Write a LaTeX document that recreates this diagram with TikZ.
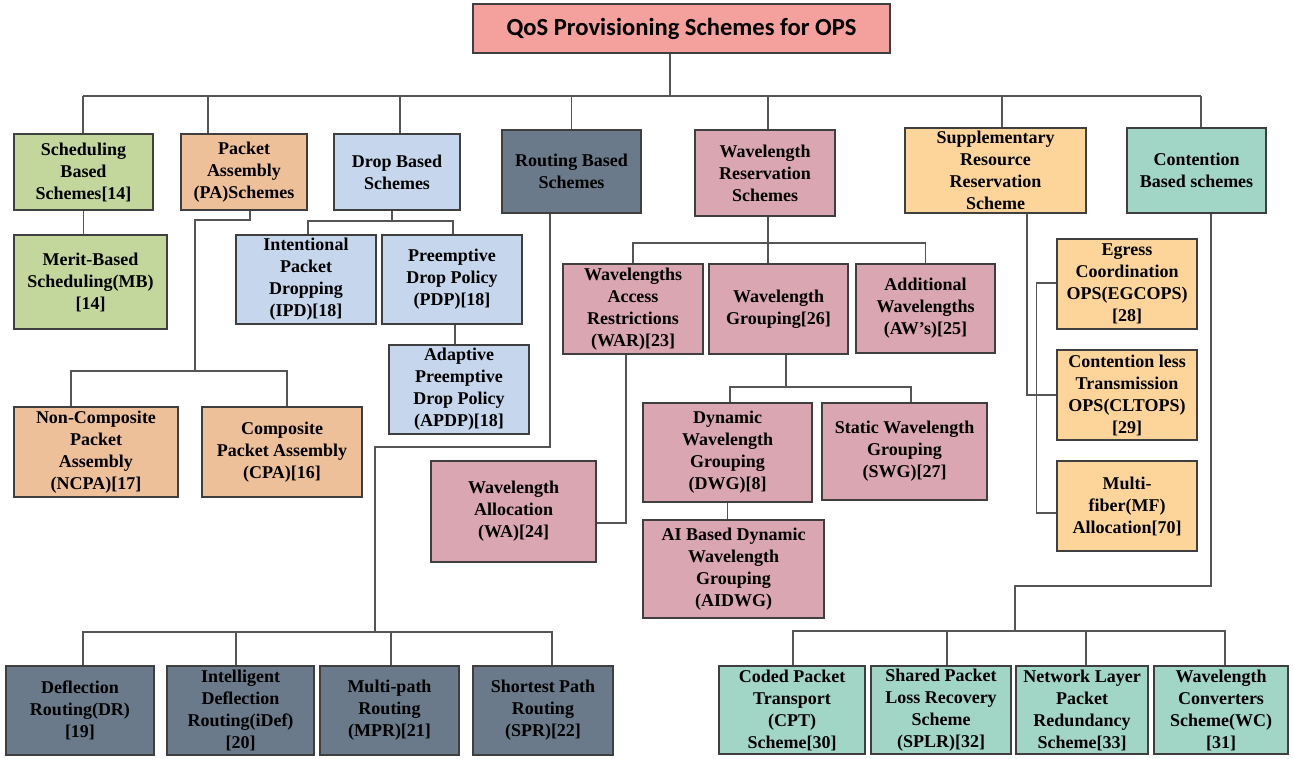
\documentclass[tikz,border=0pt]{standalone}
\usepackage{fontspec}
\setmainfont{Liberation Serif}
\newfontfamily\titlefont{Carlito}
\usetikzlibrary{calc}
\definecolor{boxline}{HTML}{3F3F3F}
\definecolor{connline}{HTML}{555555}
\definecolor{ctitle}{HTML}{F4A09C}
\definecolor{cgreen}{HTML}{C3D69B}
\definecolor{corange}{HTML}{EEC09A}
\definecolor{cblue}{HTML}{C6D6EC}
\definecolor{cslate}{HTML}{6A7A8A}
\definecolor{cpink}{HTML}{D9A6B2}
\definecolor{clorange}{HTML}{FDD59A}
\definecolor{cteal}{HTML}{A1D6C6}
\begin{document}
\begin{tikzpicture}[x=1pt,y=-1pt,
  box/.style={draw=boxline, line width=1.3pt, inner sep=0pt, align=center,
    font=\bfseries\fontsize{18}{22}\selectfont},
  conn/.style={draw=connline, line width=1.3pt}]
\fill[white] (0,0) rectangle (1293,758);
\useasboundingbox (0,0) rectangle (1293,758);

% title
\node[box, fill=ctitle, minimum width=417, minimum height=49, font=\titlefont\bfseries\fontsize{24.6}{28}\selectfont] (title) at (681.5,28.5) {QoS Provisioning Schemes for OPS};

% level 1
\node[box, fill=cgreen, minimum width=139, minimum height=76] (sched) at (83.5,172) {Scheduling\\Based\\Schemes[14]};
\node[box, fill=corange, minimum width=126, minimum height=76] (pa) at (244,172) {Packet\\Assembly\\(PA)Schemes};
\node[box, fill=cblue, minimum width=126, minimum height=76] (drop) at (397,172) {Drop Based\\Schemes};
\node[box, fill=cslate, minimum width=139, minimum height=83] (routing) at (571.5,171.5) {Routing Based\\Schemes};
\node[box, fill=cpink, minimum width=140, minimum height=86] (wr) at (765,173) {Wavelength\\Reservation\\Schemes};
\node[box, fill=clorange, minimum width=181, minimum height=85] (supp) at (995.5,170.5) {Supplementary\\Resource\\Reservation\\Scheme};
\node[box, fill=cteal, minimum width=139, minimum height=85] (cont) at (1196.5,170.5) {Contention\\Based schemes};

% scheduling / packet assembly / drop
\node[box, fill=cgreen, minimum width=153, minimum height=94] (mb) at (90.5,282) {Merit-Based\\Scheduling(MB)\\{[14]}};
\node[box, fill=cblue, minimum width=140, minimum height=89] (ipd) at (306,279.5) {Intentional\\Packet\\Dropping\\(IPD)[18]};
\node[box, fill=cblue, minimum width=140, minimum height=89] (pdp) at (452,279.5) {Preemptive\\Drop Policy\\(PDP)[18]};
\node[box, fill=cblue, minimum width=140, minimum height=89] (apdp) at (459,389.5) {Adaptive\\Preemptive\\Drop Policy\\(APDP)[18]};
\node[box, fill=corange, minimum width=164, minimum height=90] (ncpa) at (96,452) {Non-Composite\\Packet\\Assembly\\(NCPA)[17]};
\node[box, fill=corange, minimum width=160, minimum height=90] (cpa) at (282,452) {Composite\\Packet Assembly\\(CPA)[16]};

% wavelength reservation
\node[box, fill=cpink, minimum width=140, minimum height=90] (war) at (633,309) {Wavelengths\\Access\\Restrictions\\(WAR)[23]};
\node[box, fill=cpink, minimum width=139, minimum height=90] (wg) at (778.5,309) {Wavelength\\Grouping[26]};
\node[box, fill=cpink, minimum width=139, minimum height=89] (aw) at (925.5,308.5) {Additional\\Wavelengths\\(AW’s)[25]};
\node[box, fill=cpink, minimum width=165, minimum height=101] (wa) at (513.5,511.5) {Wavelength\\Allocation\\(WA)[24]};
\node[box, fill=cpink, minimum width=169, minimum height=99] (dwg) at (727.5,452.5) {Dynamic\\Wavelength\\Grouping\\(DWG)[8]};
\node[box, fill=cpink, minimum width=165, minimum height=97] (swg) at (904.5,451.5) {Static Wavelength\\Grouping\\(SWG)[27]};
\node[box, fill=cpink, minimum width=181, minimum height=98] (aidwg) at (733.5,569) {AI Based Dynamic\\Wavelength\\Grouping\\(AIDWG)};

% supplementary
\node[box, fill=clorange, minimum width=140, minimum height=90] (eg) at (1127,284) {Egress\\Coordination\\OPS(EGCOPS)\\{[28]}};
\node[box, fill=clorange, minimum width=140, minimum height=90] (cl) at (1127,395) {Contention less\\Transmission\\OPS(CLTOPS)\\{[29]}};
\node[box, fill=clorange, minimum width=140, minimum height=90] (mf) at (1127,506) {Multi-\\fiber(MF)\\Allocation[70]};

% routing children
\node[box, fill=cslate, minimum width=148, minimum height=89] (dr) at (80,710.5) {Deflection\\Routing(DR)\\{[19]}};
\node[box, fill=cslate, minimum width=147, minimum height=89] (idef) at (240.5,710.5) {Intelligent\\Deflection\\Routing(iDef)\\{[20]}};
\node[box, fill=cslate, minimum width=139, minimum height=89] (mpr) at (389.5,710.5) {Multi-path\\Routing\\(MPR)[21]};
\node[box, fill=cslate, minimum width=140, minimum height=89] (spr) at (543,710.5) {Shortest Path\\Routing\\(SPR)[22]};

% contention children
\node[box, fill=cteal, minimum width=146, minimum height=88] (cpt) at (792,710) {Coded Packet\\Transport\\(CPT)\\Scheme[30]};
\node[box, fill=cteal, minimum width=140, minimum height=88] (splr) at (941,710) {Shared Packet\\Loss Recovery\\Scheme\\(SPLR)[32]};
\node[box, fill=cteal, minimum width=132, minimum height=88] (nlpr) at (1082,710) {Network Layer\\Packet\\Redundancy\\Scheme[33]};
\node[box, fill=cteal, minimum width=134, minimum height=88] (wc) at (1221,710) {Wavelength\\Converters\\Scheme(WC)\\{[31]}};

% ---------- connectors ----------
\coordinate (b1) at (0,96);
\draw[conn] ([xshift=-11.5]title.south) -- ([xshift=-11.5]title.south |- b1);
\draw[conn] ([xshift=-0.5]sched.north |- b1) -- ([xshift=4.5]cont.north |- b1);
\draw[conn] ([xshift=-0.5]sched.north) -- ([xshift=-0.5]sched.north |- b1);
\draw[conn] ([xshift=-36]pa.north) -- ([xshift=-36]pa.north |- b1);
\draw[conn] ([xshift=3]drop.north) -- ([xshift=3]drop.north |- b1);
\draw[conn] (routing.north) -- (routing.north |- b1);
\draw[conn] ([xshift=3]wr.north) -- ([xshift=3]wr.north |- b1);
\draw[conn] ([xshift=6.5]supp.north) -- ([xshift=6.5]supp.north |- b1);
\draw[conn] ([xshift=4.5]cont.north) -- ([xshift=4.5]cont.north |- b1);

% scheduling
\draw[conn] (sched.south) -- (sched.south |- mb.north);

% packet assembly
\coordinate (pa1) at (195,220);
\coordinate (pa2) at (195,371);
\draw[conn] ([xshift=6]pa.south) |- (pa1) -- (pa2);
\draw[conn] ([xshift=-25]ncpa.north) |- (pa2) -| ([xshift=5]cpa.north);

% drop
\coordinate (d1) at (392,221);
\draw[conn] ([xshift=-5]drop.south) -- (d1);
\draw[conn] ([xshift=2]ipd.north) |- (d1) -| ([xshift=1]pdp.north);
\draw[conn] ([xshift=3]pdp.south) -- ([xshift=3]pdp.south |- apdp.north);

% routing
\coordinate (r1) at (550,447);
\coordinate (r2) at (375,632);
\draw[conn] ([xshift=-21.5]routing.south) -- (r1) -| (r2);
\draw[conn] ([xshift=3]dr.north) |- (r2) -| ([xshift=9]spr.north);
\draw[conn] ([xshift=-4.5]idef.north) -- ([xshift=-4.5]idef.north |- r2);
\draw[conn] ([xshift=1.5]mpr.north) -- ([xshift=1.5]mpr.north |- r2);

% wavelength reservation
\coordinate (w1) at (768,243);
\draw[conn] ([xshift=3]wr.south) -- ([xshift=3]wr.south |- wg.north);
\draw[conn] (war.north) |- (w1) -| (aw.north);
\draw[conn] ([xshift=-7]war.south) |- ([yshift=-11.5]wa.east);
\coordinate (g1) at (786,387);
\draw[conn] ([xshift=7.5]wg.south) -- (g1);
\draw[conn] ([xshift=2.5]dwg.north) |- (g1) -| ([xshift=6.5]swg.north);
\draw[conn] (dwg.south) -- (dwg.south |- aidwg.north);

% supplementary
\draw[conn] ([xshift=31.5]supp.south) |- (cl.west);
\draw[conn] ([yshift=1]eg.west) -- ++(-20,0) |- ([yshift=-7]mf.west);

% contention
\coordinate (c1) at (1211,586);
\coordinate (c2) at (1015,631);
\draw[conn] ([xshift=14.5]cont.south) -- (c1) -| (c2);
\draw[conn] ([xshift=1]cpt.north) |- (c2) -| ([xshift=4]wc.north);
\draw[conn] ([xshift=6]splr.north) -- ([xshift=6]splr.north |- c2);
\draw[conn] ([xshift=4]nlpr.north) -- ([xshift=4]nlpr.north |- c2);
\end{tikzpicture}
\end{document}
